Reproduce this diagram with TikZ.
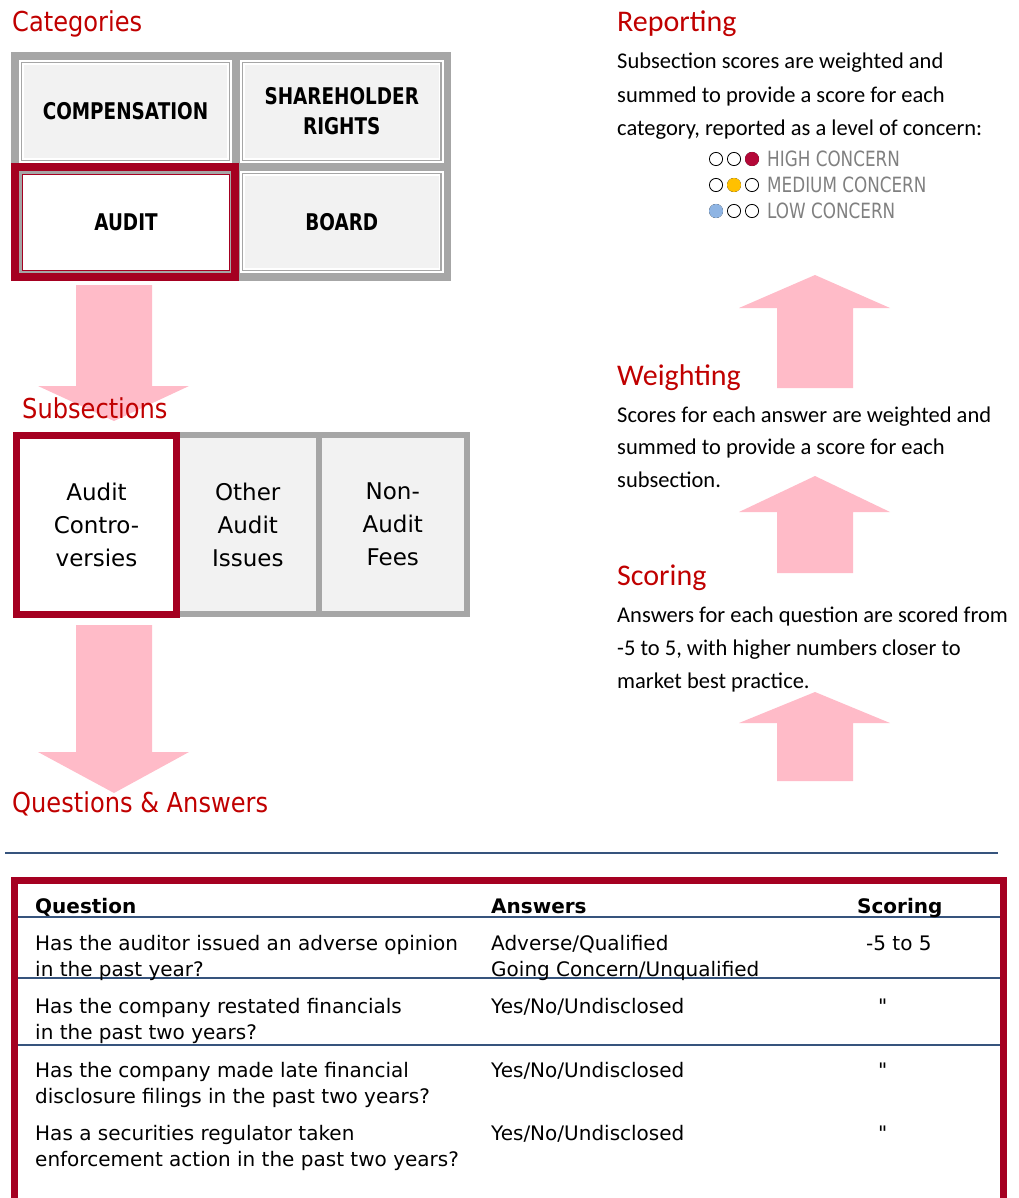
\documentclass[tikz,border=0pt]{standalone}
\usepackage{fontspec}
\setmainfont{Carlito}
\newfontfamily\tahoma[FakeStretch=0.88]{DejaVu Sans}
\newfontfamily\boxfont[FakeStretch=0.8]{DejaVu Sans}
\newfontfamily\tablefont[Ligatures=TeXOff]{DejaVu Sans}
\usetikzlibrary{positioning}

\definecolor{headred}{RGB}{192,0,0}
\definecolor{framered}{RGB}{165,0,33}
\definecolor{framegray}{RGB}{166,166,166}
\definecolor{cellfill}{RGB}{242,242,242}
\definecolor{arrowpink}{RGB}{255,187,200}
\definecolor{rulenavy}{RGB}{54,84,125}
\definecolor{highdot}{RGB}{180,8,56}
\definecolor{meddot}{RGB}{255,192,0}
\definecolor{lowdot}{RGB}{142,180,227}
\definecolor{legendgray}{RGB}{128,128,128}

% multi-line nodes sit on the baseline of their last line
\tikzset{
  heading/.style={anchor=base west, inner sep=0pt, text=headred, font=\tahoma\fontsize{27.4}{33}\selectfont},
  stephead/.style={anchor=base west, inner sep=0pt, text=headred, font=\fontsize{30}{36}\selectfont},
  bodytext/.style={anchor=base west, inner sep=0pt, align=left, font=\fontsize{22.5}{33}\selectfont},
  catcell/.style={draw=white, line width=5pt, fill=cellfill, minimum height=98pt, inner sep=0pt, align=center,
    font=\boxfont\bfseries\fontsize{23}{30}\selectfont, postaction={draw=framegray, line width=1.5pt}},
  subcell/.style={draw=framegray, line width=6pt, fill=cellfill, minimum height=179pt, inner sep=0pt, align=center,
    font=\tablefont\fontsize{23}{33}\selectfont},
  blockarrow/.style={fill=arrowpink},
  legendtext/.style={anchor=west, inner sep=0pt, text=legendgray, font=\boxfont\fontsize{21}{24}\selectfont},
  tabtext/.style={anchor=base west, inner sep=0pt, align=left, font=\tablefont\fontsize{20}{26.5}\selectfont},
  tabhead/.style={tabtext, font=\tablefont\bfseries\fontsize{20}{26.5}\selectfont},
  tabrule/.style={rulenavy, line width=1.3pt}
}

\begin{document}
\begin{tikzpicture}[x=1pt, y=-1pt]
\clip (0,0) rectangle (1018,1198);

% block arrows
\foreach \shaft/\neck/\tip in {285/386/421, 625/752/793}
  \fill[blockarrow] (76,\shaft) -- (152,\shaft) -- (152,\neck) -- (189,\neck) -- (114,\tip) -- (38,\neck) -- (76,\neck) -- cycle;
\foreach \tip/\neck/\shaft in {275/308/388, 476/512/573, 692/723/781}
  \fill[blockarrow] (815,\tip) -- (890,\neck) -- (853,\neck) -- (853,\shaft) -- (777,\shaft) -- (777,\neck) -- (739,\neck) -- cycle;

% categories
\node[heading] (cathead) at (12,32) {Categories};
\fill[framegray] (11,52) rectangle (451,281);
\node[catcell, minimum width=208pt] (comp) at (125.5,111.5) {COMPENSATION};
\node[catcell, minimum width=198.5pt] (share) at (341.75,111.5) {SHAREHOLDER\\RIGHTS};
\node[catcell, minimum width=198.5pt, minimum height=97pt] (board) at (341.75,222) {BOARD};
\draw[framered, line width=8pt] (15,167) rectangle (235,277);
\node[draw=framered, line width=1.5pt, fill=white, minimum width=207pt, minimum height=96pt, inner sep=0pt,
  font=\boxfont\bfseries\fontsize{23}{30}\selectfont] (audit) at (126,222.5) {AUDIT};

% subsections
\node[subcell, minimum width=141.5pt] (other) at (247.75,524.5) {Other\\Audit\\Issues};
\node[subcell, minimum width=148.5pt] (nonaudit) at (392.75,524.5) {Non-\\Audit\\Fees};
\node[subcell, draw=framered, line width=7pt, fill=white, minimum width=160pt] (controv) at (96.5,524.5) {Audit\\Contro-\\versies};
\node[heading] (subhead) at (22,418) {Subsections};

\node[heading] (qahead) at (12,812) {Questions \& Answers};

% right column
\node[stephead] (rephead) at (617,32) {Reporting};
\node[bodytext, font=\fontsize{22.5}{33.5}\selectfont] (reptext) at (617,136)
  {Subsection scores are weighted and\\summed to provide a score for each\\category, reported as a level of concern:};
\foreach \y/\k/\c/\t in {159/3/highdot/HIGH CONCERN, 185/2/meddot/MEDIUM CONCERN, 211/1/lowdot/LOW CONCERN} {
  \foreach \i in {1,2,3}
    \draw[line width=0.8pt] (698+18*\i,\y) circle (6.6);
  \fill[\c] (698+18*\k,\y) circle (7);
  \node[legendtext] (leg\k) at (767,\y) {\t};
}
\node[stephead] (weighthead) at (617,385) {Weighting};
\node[bodytext, font=\fontsize{22.5}{32.5}\selectfont] (weighttext) at (617,487)
  {Scores for each answer are weighted and\\summed to provide a score for each\\subsection.};
\node[stephead] (scorehead) at (617,585) {Scoring};
\node[bodytext] (scoretext) at (617,688)
  {Answers for each question are scored from\\-5 to 5, with higher numbers closer to\\market best practice.};

% table
\draw[rulenavy, line width=1.8pt] (5,853) -- (998,853);
\draw[framered, line width=7pt] (14,1220) -- (14,880.5) -- (1003.5,880.5) -- (1003.5,1220);
\foreach \y in {917,978,1045}
  \draw[tabrule] (17.5,\y) -- (1000,\y);
\node[tabhead] (qcol) at (35,913) {Question};
\node[tabhead] (acol) at (491,913) {Answers};
\node[tabhead] (scol) at (857,913) {Scoring};
\node[tabtext] (q1) at (35,976.5) {Has the auditor issued an adverse opinion\\in the past year?};
\node[tabtext] (a1) at (491,976.5) {Adverse/Qualified\\Going Concern/Unqualified};
\node[tabtext] (s1) at (866,950) {-5 to 5};
\node[tabtext] (q2) at (35,1039.5) {Has the company restated financials\\in the past two years?};
\node[tabtext] (a2) at (491,1013) {Yes/No/Undisclosed};
\node[tabtext] (s2) at (878,1013) {"};
\node[tabtext] (q3) at (35,1103.5) {Has the company made late financial\\disclosure filings in the past two years?};
\node[tabtext] (a3) at (491,1077) {Yes/No/Undisclosed};
\node[tabtext] (s3) at (878,1077) {"};
\node[tabtext] (q4) at (35,1166.5) {Has a securities regulator taken\\enforcement action in the past two years?};
\node[tabtext] (a4) at (491,1140) {Yes/No/Undisclosed};
\node[tabtext] (s4) at (878,1140) {"};
\end{tikzpicture}
\end{document}
